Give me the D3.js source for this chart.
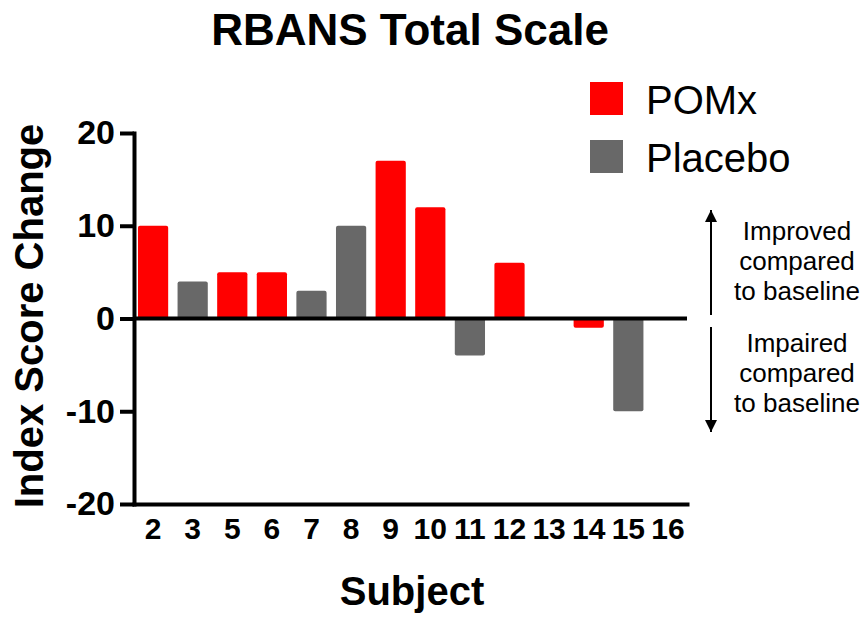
<!DOCTYPE html>
<html>
<head>
<meta charset="utf-8">
<script src="https://cdn.jsdelivr.net/npm/d3@7"></script>
<style>
  html, body { margin: 0; padding: 0; background: #fff; }
  svg { display: block; font-family: "Liberation Sans", Arial, Helvetica, sans-serif; }
</style>
</head>
<body>
<svg id="chart" width="861" height="617"></svg>
<script>
// ---- data ----
const subjects = ["2", "3", "5", "6", "7", "8", "9", "10", "11", "12", "13", "14", "15", "16"];
const values   = [10, 4, 5, 5, 3, 10, 17, 12, -4, 6, null, -1, -10, null];
const groups   = ["POMx", "Placebo", "POMx", "POMx", "Placebo", "Placebo", "POMx", "POMx", "Placebo", "POMx", null, "POMx", "Placebo", null];
const seriesNames = ["POMx", "Placebo"];
const yTicks = [-20, -10, 0, 10, 20];
const titleText = "RBANS Total Scale";
const yLabel = "Index Score Change";
const xLabel = "Subject";
const upNote = ["Improved", "compared", "to baseline"];
const downNote = ["Impaired", "compared", "to baseline"];

const colors = { "POMx": "#ff0000", "Placebo": "#686868" };

const svg = d3.select("#chart");
const pLeft = 134, pRight = 687, pTop = 133, pBottom = 504;

const x = d3.scaleBand().domain(subjects).range([pLeft, pRight]).paddingInner(0.237).paddingOuter(0.1);
const y = d3.scaleLinear().domain([-20, 20]).range([pBottom, pTop]);

// title
svg.append("text").attr("x", 410).attr("y", 45).attr("text-anchor", "middle")
  .attr("font-size", 44).attr("font-weight", "bold").text(titleText);

// bars
const data = subjects.map((s, i) => ({ s, v: values[i], g: groups[i] })).filter(d => d.v !== null);
svg.append("g").selectAll("rect").data(data).join("rect")
  .attr("x", d => x(d.s))
  .attr("width", x.bandwidth())
  .attr("y", d => y(Math.max(0, d.v)))
  .attr("height", d => Math.abs(y(d.v) - y(0)))
  .attr("rx", 2).attr("ry", 2)
  .attr("fill", d => colors[d.g]);

// zero line
svg.append("line").attr("x1", pLeft).attr("x2", pRight).attr("y1", y(0)).attr("y2", y(0))
  .attr("stroke", "#000").attr("stroke-width", 4);

// y axis
const yAxis = svg.append("g").attr("transform", `translate(${pLeft},0)`)
  .call(d3.axisLeft(y).tickValues(yTicks).tickFormat(d => String(d)).tickSize(14).tickSizeOuter(0).tickPadding(5));
yAxis.select(".domain").attr("stroke-width", 4).attr("stroke-linecap", "square");
yAxis.selectAll(".tick line").attr("stroke-width", 4);
yAxis.selectAll(".tick text").attr("font-size", 34).attr("font-weight", "bold")
  .attr("font-family", "Liberation Sans, Arial, sans-serif").attr("fill", "#000");

// x axis
const xAxis = svg.append("g").attr("transform", `translate(0,${pBottom})`)
  .call(d3.axisBottom(x).tickSize(0).tickSizeOuter(0).tickPadding(14));
xAxis.select(".domain").attr("stroke-width", 4).attr("stroke-linecap", "square");
xAxis.selectAll(".tick text").attr("font-size", 30).attr("font-weight", "bold")
  .attr("font-family", "Liberation Sans, Arial, sans-serif").attr("fill", "#000");

// axis labels
svg.append("text").attr("transform", "translate(43,316) rotate(-90)").attr("text-anchor", "middle")
  .attr("font-size", 40).attr("font-weight", "bold").text(yLabel);
svg.append("text").attr("x", 412).attr("y", 605).attr("text-anchor", "middle")
  .attr("font-size", 40).attr("font-weight", "bold").text(xLabel);

// legend
const leg = svg.append("g");
seriesNames.forEach((n, i) => {
  leg.append("rect").attr("x", 590).attr("y", 82 + i * 58).attr("width", 33).attr("height", 33)
    .attr("fill", colors[n]);
  leg.append("text").attr("x", 646).attr("y", 114 + i * 58).attr("font-size", 40).text(n);
});

// annotations
const defs = svg.append("defs");
defs.append("marker").attr("id", "ah").attr("viewBox", "0 0 10 10").attr("refX", 10).attr("refY", 5)
  .attr("markerWidth", 15).attr("markerHeight", 12).attr("markerUnits", "userSpaceOnUse").attr("orient", "auto")
  .append("path").attr("d", "M0,0 L10,5 L0,10 Z").attr("fill", "#000");

svg.append("line").attr("x1", 711).attr("x2", 711).attr("y1", 315).attr("y2", 210)
  .attr("stroke", "#000").attr("stroke-width", 2).attr("marker-end", "url(#ah)");
svg.append("line").attr("x1", 711).attr("x2", 711).attr("y1", 327).attr("y2", 432)
  .attr("stroke", "#000").attr("stroke-width", 2).attr("marker-end", "url(#ah)");

upNote.forEach((t, i) => {
  svg.append("text").attr("x", 797).attr("y", 240 + i * 30).attr("text-anchor", "middle")
    .attr("font-size", 26).text(t);
});
downNote.forEach((t, i) => {
  svg.append("text").attr("x", 797).attr("y", 352 + i * 30).attr("text-anchor", "middle")
    .attr("font-size", 26).text(t);
});
</script>
</body>
</html>
